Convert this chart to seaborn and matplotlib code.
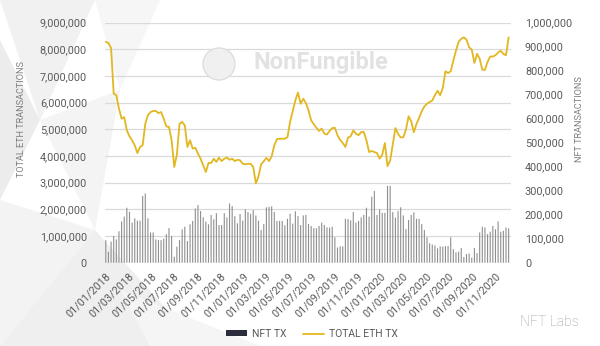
import numpy as np
import pandas as pd
import matplotlib
matplotlib.use("Agg")
import matplotlib.pyplot as plt
import seaborn as sns
from matplotlib.patches import Patch, Polygon, Ellipse
from matplotlib.lines import Line2D

# ---------------- data ----------------
start_date = "2018-01-01"
nft_tx_thousands = [
    94, 46, 88, 111, 97, 131, 172, 192, 229, 212, 167, 185, 175, 175, 278, 289, 185, 126, 126, 97,
    94, 94, 100, 119, 144, 111, 25, 67, 94, 139, 150, 90, 160, 174, 226, 240, 215, 189, 171, 160,
    199, 181, 206, 157, 157, 206, 189, 247, 236, 194, 164,
    203, 175, 222, 211, 204, 219, 197, 175, 136, 161, 231, 233, 235, 211, 174, 174, 174, 156, 183, 204,
    163, 214, 194, 157, 197, 199, 161, 153, 144, 143, 153, 167, 157, 147, 146, 150, 106, 63, 68, 68,
    183, 182, 176, 211, 167, 174, 189, 199, 229, 192, 275, 299,
    199, 222, 208, 208, 320, 320, 211, 188, 215, 231, 197, 140, 178, 199, 210, 183, 183, 161, 136, 106,
    81, 76, 72, 60, 68, 67, 69, 69, 106, 56, 43, 46, 61, 24, 36, 38, 21, 61, 40, 126,
    150, 147, 119, 129, 153, 139, 172, 129, 133, 147, 143,
]
eth_tx_millions = [
    8.28, 8.24, 8.05, 6.34, 6.28, 5.78, 5.40, 5.46, 4.96, 4.74, 4.59, 4.40, 4.11, 4.34, 4.40, 5.21, 5.53, 5.65, 5.69, 5.69,
    5.61, 5.65, 5.40, 5.11, 5.09, 4.59, 3.59, 4.05, 5.21, 5.28, 5.15, 4.34, 4.59, 4.28, 4.31, 4.09, 3.90, 3.65, 3.40, 3.74,
    3.74, 3.90, 3.78, 3.94, 3.81, 3.90, 3.94, 3.86, 3.90, 3.81, 3.86,
    3.84, 3.71, 3.69, 3.71, 3.71, 3.59, 2.97, 3.24, 3.69, 3.80, 3.93, 3.81, 3.99, 4.40, 4.63, 4.65, 4.65, 4.65, 4.71, 5.28,
    5.69, 6.09, 6.38, 5.96, 6.15, 5.99, 5.71, 5.34, 5.19, 5.06, 4.94, 5.03, 4.84, 4.81, 4.94, 5.05, 5.06, 4.78, 4.61, 4.49,
    4.34, 4.69, 4.74, 4.96, 4.84, 4.78, 4.90, 4.90, 4.59, 4.15, 4.19, 4.15,
    4.11, 3.90, 4.05, 4.49, 3.62, 3.83, 4.43, 5.05, 4.83, 4.70, 4.70, 4.99, 5.49, 5.30, 4.89, 5.20, 5.43, 5.68, 5.86, 5.96,
    6.03, 6.08, 6.28, 6.45, 6.28, 6.55, 7.18, 7.11, 7.18, 7.58, 7.95, 8.28, 8.40, 8.45, 8.36, 8.08, 7.99, 7.49, 7.83, 7.65,
    7.24, 7.23, 7.53, 7.73, 7.73, 7.78, 7.88, 7.95, 7.83, 7.78, 8.45,
]
x_tick_labels = ["01/01/2018", "01/03/2018", "01/05/2018", "01/07/2018", "01/09/2018", "01/11/2018",
                 "01/01/2019", "01/03/2019", "01/05/2019", "01/07/2019", "01/09/2019", "01/11/2019",
                 "01/01/2020", "01/03/2020", "01/05/2020", "01/07/2020", "01/09/2020", "01/11/2020"]
left_ticks_millions = [0, 1, 2, 3, 4, 5, 6, 7, 8, 9]
right_ticks_thousands = [0, 100, 200, 300, 400, 500, 600, 700, 800, 900, 1000]

# ---------------- style ----------------
sns.set_style("white")
plt.rcParams["font.family"] = ["Roboto", "DejaVu Sans"]

W, H = 600, 346
fig = plt.figure(figsize=(W / 100, H / 100), dpi=100)
fig.patch.set_facecolor("white")

# faint low-poly background
bg_polys = [
    ([(0, 0), (95, 0), (40, 120)], "#f1f1f1"),
    ([(0, 40), (40, 120), (0, 200)], "#ececec"),
    ([(40, 120), (120, 90), (95, 230)], "#f4f4f4"),
    ([(95, 0), (160, 0), (120, 90)], "#f6f6f6"),
    ([(0, 200), (95, 230), (0, 346)], "#f3f3f3"),
    ([(95, 230), (200, 346), (0, 346)], "#efefef"),
    ([(120, 290), (260, 346), (150, 346)], "#f5f5f5"),
]
for pts, col in bg_polys:
    fig.add_artist(Polygon([(px / W, 1 - py / H) for px, py in pts], closed=True,
                           transform=fig.transFigure, facecolor=col, edgecolor="none", zorder=0))

ax = fig.add_axes([105 / W, 1 - 262.7 / H, (511 - 105) / W, (262.7 - 22.7) / H])
ax.set_facecolor("none")
ax2 = ax.twinx()

n = len(nft_tx_thousands)
weeks = np.arange(n)
df = pd.DataFrame({"week": weeks,
                   "nft": np.array(nft_tx_thousands) * 1000,
                   "eth": np.array(eth_tx_millions) * 1e6})

line_color = "#E2B720"
bar_color = "#8e8e8e"

sns.lineplot(data=df, x="week", y="eth", ax=ax, color=line_color, lw=1.3, zorder=3)
sns.barplot(data=df, x="week", y="nft", ax=ax2, color=bar_color, width=0.42,
            saturation=1, linewidth=0, snap=False, zorder=2)

ax.set_ylim(0, 9e6)
ax2.set_ylim(0, 1e6)
ax.set_xlim(-0.3, n - 0.1)

ax.set_yticks([v * 1e6 for v in left_ticks_millions])
ax.set_yticklabels([f"{int(v * 1e6):,}" for v in left_ticks_millions])
ax2.set_yticks([v * 1000 for v in right_ticks_thousands])
ax2.set_yticklabels([f"{int(v * 1000):,}" for v in right_ticks_thousands])

start = pd.Timestamp(start_date)
tick_pos = [(pd.to_datetime(s, format="%d/%m/%Y") - start).days / 7 for s in x_tick_labels]
ax.set_xticks(tick_pos)
ax.set_xticklabels(x_tick_labels, rotation=45, ha="right", rotation_mode="anchor")

tick_col = "#5a5a5a"
ax.tick_params(axis="y", length=0, pad=13, labelsize=7.8, labelcolor=tick_col)
ax2.tick_params(axis="y", length=0, pad=10, labelsize=7.8, labelcolor=tick_col)
ax.tick_params(axis="x", length=4, width=0.8, color="#cfcfcf", pad=2, labelsize=7.8, labelcolor=tick_col)

ax.grid(axis="y", color="#dadada", lw=0.9)
ax.grid(axis="x", visible=False)
ax2.grid(False)
for a in (ax, ax2):
    for s in a.spines.values():
        s.set_visible(False)
    a.set_xlabel("")
    a.set_ylabel("")

lab_col = "#7d7d7d"
fig.text(21 / W, 1 - 119 / H, "TOTAL ETH TRANSACTIONS", rotation=90, ha="center", va="center",
         fontsize=6.6, color=lab_col)
fig.text(579 / W, 1 - 119 / H, "NFT TRANSACTIONS", rotation=90, ha="center", va="center",
         fontsize=6.6, color=lab_col)

# watermark
fig.text(321 / W, 1 - 62 / H, "NonFungible", ha="center", va="center", fontsize=17,
         fontweight="bold", color="#e2e2e2", zorder=1)
fig.add_artist(Ellipse((219 / W, 1 - 64 / H), 32 / W, 32 / H, transform=fig.transFigure,
                       facecolor="#f0f0f0", edgecolor="#dedede", lw=1.0, zorder=1))
fig.text(549 / W, 1 - 322 / H, "NFT Labs", ha="center", va="center", fontsize=10,
         color="#9a9a9a", fontweight="light")

handles = [Patch(facecolor="#2b2d3c", edgecolor="none"),
           Line2D([0], [0], color=line_color, lw=1.3)]
fig.legend(handles, ["NFT TX", "TOTAL ETH TX"], loc="center", bbox_to_anchor=(312 / W, 1 - 334 / H),
           ncol=2, frameon=False, fontsize=7.5, handlelength=2.0, handleheight=0.5,
           columnspacing=1.6, handletextpad=0.5, labelcolor=tick_col)

fig.savefig("out.png", dpi=100, facecolor="white")
